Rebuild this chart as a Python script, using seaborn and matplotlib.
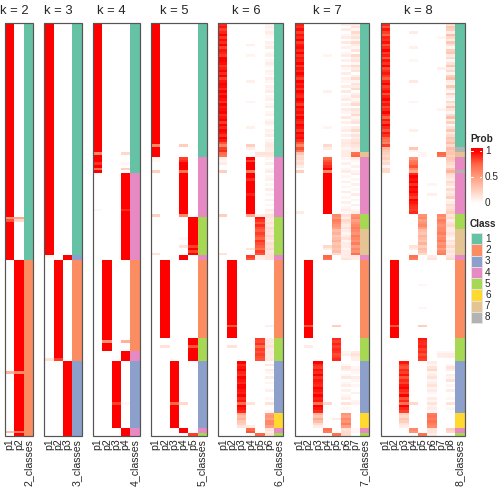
import numpy as np
import matplotlib.pyplot as plt
import seaborn as sns
from matplotlib.colors import LinearSegmentedColormap, ListedColormap
from matplotlib.patches import Rectangle

# =========================
# DATA
# =========================
n_rows = 160
k_list = [2, 3, 4, 5, 6, 7, 8]
class_colors = ["#66C2A5", "#FC8D62", "#8DA0CB", "#E78AC3",
                "#A6D854", "#FFD92F", "#E5C494", "#B3B3B3"]
class_labels = ["1", "2", "3", "4", "5", "6", "7", "8"]
prob_ticks = [1, 0.5, 0]

# class runs: (class, number of rows), top to bottom
runs_k2 = [(1, 92), (2, 68)]
runs_k3 = [(1, 90), (3, 2), (2, 39), (3, 29)]
runs_k4 = [(1, 58), (4, 34), (2, 35), (4, 4), (3, 26), (4, 3)]
runs_k5 = [(1, 52), (4, 23), (5, 15), (4, 2), (2, 30), (5, 9), (3, 26), (4, 2), (5, 1)]
runs_k6 = [(1, 52), (4, 23), (5, 15), (4, 2), (2, 30), (5, 9), (3, 20), (6, 6), (4, 2), (5, 1)]
runs_k7 = [(1, 50), (7, 2), (4, 22), (5, 6), (7, 10), (4, 2), (2, 30), (5, 9), (3, 20),
           (6, 6), (4, 2), (5, 1)]
runs_k8 = [(1, 48), (8, 2), (7, 2), (4, 5), (8, 1), (4, 16), (5, 6), (7, 10), (4, 2),
           (2, 30), (5, 9), (3, 20), (6, 6), (4, 2), (5, 1)]

# green block probabilities for the larger k
k6_green_p1 = [0.9, 0.95, 0.85, 0.92, 1.0, 0.88, 0.97, 0.9, 1.0, 0.85, 0.95, 0.92, 0.86,
               1.0, 1.0, 0.97, 0.88, 0.93, 1.0, 0.9, 1.0, 0.85, 0.95, 1.0, 0.98, 0.9,
               1.0, 0.92, 1.0, 0.96, 0.88, 1.0, 0.93, 0.97, 1.0, 0.9, 0.95, 1.0, 0.87,
               1.0, 0.92, 1.0, 0.96, 0.89, 1.0, 0.94, 0.8, 0.62, 0.85, 0.9, 0.72, 0.68]
k6_green_p6 = [0.05, 0.08, 0.05, 0.1, 0.05, 0.03, 0, 0.08, 0.05, 0.1, 0, 0.05, 0.08, 0,
               0.05, 0.1, 0.05, 0, 0.08, 0.05, 0, 0.1, 0.05, 0, 0.08, 0.05, 0.1, 0, 0.05,
               0.08, 0, 0.05, 0.1, 0, 0.05, 0.08, 0, 0.05, 0.1, 0.05, 0, 0.08, 0.05, 0.1,
               0, 0.05, 0.1, 0.12, 0.1, 0.08, 0.15, 0.12]
k7_green_p1 = [0.92, 0.88, 0.97, 0.85, 0.95, 0.9, 1.0, 0.86, 0.94, 0.98, 0.9, 1.0, 0.88,
               0.95, 0.92, 1.0, 0.87, 0.96, 0.9, 1.0, 0.94, 0.85, 1.0, 0.92, 0.97, 0.88,
               1.0, 0.93, 0.9, 1.0, 0.95, 0.86, 1.0, 0.92, 0.97, 0.89, 1.0, 0.94, 0.9,
               1.0, 0.96, 0.88, 1.0, 0.93, 0.98, 0.9, 0.78, 0.6, 0.82, 0.7]
k7_green_p6 = [0.08, 0, 0.1, 0, 0.05, 0.1, 0, 0.12, 0, 0.08, 0, 0.05, 0.1, 0, 0.08, 0,
               0.12, 0.05, 0, 0.1, 0, 0.08, 0.05, 0, 0.1, 0, 0.12, 0, 0.05, 0.1, 0, 0.08,
               0, 0.1, 0.05, 0, 0.12, 0, 0.08, 0, 0.05, 0.1, 0, 0.08, 0, 0.1, 0.12, 0.1,
               0.05, 0.1]
k7_green_p7 = [0.1, 0.15, 0.05, 0.2, 0.1, 0.15, 0.05, 0.2, 0.1, 0.05, 0.15, 0, 0.2, 0.1,
               0.15, 0.05, 0.2, 0.1, 0.15, 0, 0.1, 0.2, 0.05, 0.15, 0.1, 0.2, 0, 0.1, 0.15,
               0.05, 0.1, 0.2, 0, 0.15, 0.1, 0.2, 0.05, 0.1, 0.15, 0, 0.1, 0.2, 0.05, 0.15,
               0.1, 0.15, 0.2, 0.15, 0.1, 0.1]
k8_green_p1 = [0.9, 0.8, 0.95, 0.85, 0.75, 0.92, 0.88, 0.97, 0.8, 0.9, 1.0, 0.85, 0.93,
               0.78, 0.96, 0.88, 1.0, 0.82, 0.9, 0.95, 0.86, 0.78, 0.92, 1.0, 0.84, 0.9,
               0.97, 0.8, 0.93, 1.0, 0.87, 0.95, 0.82, 0.9, 1.0, 0.88, 0.76, 0.94, 0.85,
               1.0, 0.9, 0.8, 0.95, 0.88, 0.75, 0.7, 0.62, 0.85]
k8_green_p8 = [0.15, 0.3, 0.25, 0.1, 0.35, 0.2, 0.1, 0.3, 0.15, 0.05, 0.25, 0.3, 0.1, 0.2,
               0.05, 0.15, 0.3, 0.1, 0.2, 0.05, 0.25, 0.35, 0.1, 0.05, 0.3, 0.15, 0.05,
               0.25, 0.1, 0.05, 0.2, 0.1, 0.3, 0.15, 0.05, 0.2, 0.35, 0.1, 0.25, 0.05,
               0.15, 0.3, 0.1, 0.2, 0.3, 0.25, 0.35, 0.2]

# soft membership: (first row, column p#, values for consecutive rows)
soft_k2 = [(75, 1, [0.55, 0.8]), (75, 2, [0.45, 0.2]), (135, 1, [0.4]), (135, 2, [0.6]),
           (158, 1, [0.35]), (158, 2, [0.65])]
soft_k3 = [(90, 1, [0.05]), (130, 1, [0.15]), (130, 2, [0.85])]
soft_k4 = [(50, 1, [0.6]), (50, 4, [0.2]), (54, 1, [0.88]), (54, 4, [0.05]),
           (56, 1, [0.7]), (56, 4, [0.25]), (72, 1, [0.04]), (72, 4, [0.9]),
           (123, 2, [0.55]), (123, 4, [0.4]), (147, 3, [0.85]), (147, 4, [0.04])]
soft_k5 = [(47, 1, [0.6]), (47, 4, [0.25]), (52, 1, [0.05, 0.05]), (52, 4, [0.85, 0.9]),
           (57, 1, [0.25]), (57, 4, [0.7]), (74, 1, [0.25]), (74, 4, [0.6]),
           (83, 4, [0.04]), (86, 4, [0.15]), (86, 5, [0.85]), (88, 5, [0.85]),
           (89, 1, [0.15]), (125, 2, [0.15]), (125, 5, [0.8]), (147, 3, [0.75]),
           (147, 4, [0.2]), (159, 5, [0.85])]
soft_k6 = [(0, 1, k6_green_p1), (0, 6, k6_green_p6),
           (8, 4, [0.08]), (12, 4, [0.06]), (22, 4, [0.08]), (30, 4, [0.06]), (40, 4, [0.08]),
           (47, 4, [0.25, 0.1]), (50, 5, [0.15, 0.12]),
           (52, 1, [0.08, 0.05, 0.1]), (53, 4, [0.85]), (57, 1, [0.25]), (57, 4, [0.65]),
           (60, 4, [0.9]), (66, 4, [0.92]), (74, 1, [0.25]), (74, 4, [0.45]), (74, 5, [0.1]),
           (52, 6, [0.05, 0, 0.08, 0, 0.05, 0.1, 0, 0.05, 0.08, 0, 0.05, 0, 0.1, 0, 0.05,
                    0, 0.08, 0, 0.05, 0, 0.1, 0.05, 0.15]),
           (75, 5, [0.95, 0.88, 0.8, 0.9, 0.82, 0.78, 0.85, 0.8, 0.75, 0.88, 0.82, 0.78,
                    0.7, 0.85, 0.8]),
           (75, 6, [0.12, 0.1, 0.15, 0.1, 0.18, 0.15, 0.12, 0.2, 0.15, 0.1, 0.18, 0.15,
                    0.2, 0.12, 0.15]),
           (87, 4, [0.15]), (89, 1, [0.15]),
           (90, 4, [0.85, 0.8]), (90, 5, [0.1, 0.1]), (90, 6, [0.15, 0.15]),
           (117, 2, [0.8]), (117, 6, [0.08]),
           (122, 5, [0.85, 0.82, 0.88, 0.75, 0.85, 0.8, 0.85, 0.82, 0.8]),
           (122, 6, [0.1, 0.12, 0.1, 0.15, 0.1, 0.12, 0.1, 0.1, 0.12]), (125, 2, [0.15]),
           (131, 3, [1, 0.9, 0.95, 1, 0.92, 0.88, 1, 0.95, 0.9, 1, 1, 0.95, 0.92, 1, 0.9,
                     0.95, 0.72, 1, 0.95, 0.9]),
           (131, 6, [0, 0.12, 0, 0.1, 0.05, 0, 0.1, 0, 0.05, 0, 0, 0.08, 0, 0, 0.05, 0,
                     0.15, 0, 0, 0.05]),
           (147, 4, [0.15]),
           (151, 3, [0.45, 0.35, 0.4, 0.3, 0.25, 0.15]),
           (151, 6, [0.5, 0.55, 0.5, 0.6, 0.6, 0.5]), (156, 4, [0.1]),
           (157, 4, [0.75, 0.8]), (157, 6, [0.15, 0.1]), (159, 5, [0.75]), (159, 6, [0.15])]
soft_k7 = [(0, 1, k7_green_p1), (0, 6, k7_green_p6), (0, 7, k7_green_p7),
           (12, 4, [0.06]), (26, 4, [0.08]), (40, 4, [0.06]), (47, 4, [0.2, 0.1]),
           (50, 1, [0.3, 0.2]), (50, 6, [0.1, 0.1]), (50, 7, [0.7, 0.75]),
           (52, 1, [0.2, 0.15, 0.18, 0.1, 0, 0.25]), (52, 4, [0.75, 0.8, 0.85, 0.9, 1, 0.6]),
           (52, 6, [0.05, 0, 0.08, 0, 0.05, 0.1, 0, 0.05, 0, 0.08, 0, 0.05, 0, 0.1, 0,
                    0.05, 0, 0.08, 0, 0.05, 0.1, 0.05]),
           (52, 7, [0.1, 0.05, 0, 0.08, 0, 0.05, 0.1, 0, 0.05, 0, 0.08, 0, 0.05, 0, 0.1,
                    0, 0.05, 0, 0.08, 0, 0.05, 0.1]),
           (73, 1, [0.1]),
           (74, 5, [0.6, 0.55, 0.65, 0.6, 0.55, 0.5]),
           (74, 6, [0.15, 0.1, 0.2, 0.15, 0.1, 0.15]),
           (74, 7, [0.55, 0.6, 0.5, 0.55, 0.6, 0.65]),
           (80, 5, [0.35, 0.4, 0.3, 0.35, 0.4, 0.3, 0.35, 0.3, 0.35, 0.2]),
           (80, 6, [0.1, 0.05, 0.1, 0.15, 0.05, 0.1, 0.1, 0.05, 0.1, 0.1]),
           (80, 7, [0.6, 0.55, 0.65, 0.6, 0.55, 0.65, 0.5, 0.6, 0.55, 0.7]),
           (86, 4, [0.2, 0.1]),
           (90, 4, [0.75, 0.7]), (90, 6, [0.1, 0.15]), (90, 7, [0.1, 0.1]),
           (117, 2, [0.8]), (117, 5, [0.25]),
           (122, 5, [0.9, 0.85, 0.92, 0.85, 0.9, 0.88, 0.82, 0.85, 0.9]),
           (127, 6, [0.05, 0.08]), (127, 7, [0.1, 0.15, 0.1, 0.08]), (125, 2, [0.1]),
           (131, 3, [1, 0.9, 0.85, 0.95, 0.9, 1, 0.88, 0.95, 0.92, 0.9, 1, 0.95, 0.9, 1,
                     0.92, 0.95, 0.7, 1, 0.95, 0.9]),
           (131, 6, [0, 0.05, 0.15, 0.1, 0, 0.05, 0.12, 0, 0.05, 0.1, 0, 0.08, 0, 0.05,
                     0.1, 0, 0.15, 0, 0.05, 0]),
           (131, 7, [0, 0, 0.05, 0.08, 0.05, 0, 0.1, 0.05, 0, 0.05, 0, 0, 0.08, 0, 0,
                     0.05, 0.08, 0, 0, 0]),
           (147, 4, [0.2]),
           (151, 3, [0.4, 0.3, 0.45, 0.35, 0.2, 0.1]),
           (151, 6, [0.55, 0.5, 0.6, 0.55, 0.65, 0.5]), (153, 5, [0.1]),
           (157, 4, [0.7, 0.65]), (157, 6, [0.15, 0.2]), (157, 7, [0.05, 0.05]),
           (159, 5, [0.7]), (159, 6, [0.2])]
soft_k8 = [(0, 1, k8_green_p1), (0, 8, k8_green_p8),
           (3, 4, [0.1]), (9, 4, [0.08]), (14, 4, [0.05]), (22, 4, [0.12]), (30, 4, [0.06]),
           (41, 4, [0.08]), (5, 7, [0.05]), (17, 7, [0.08]), (33, 7, [0.06]),
           (48, 1, [0.35, 0.3]), (48, 4, [0.3, 0.05]), (48, 8, [0.35, 0.3]),
           (50, 1, [0.25, 0.2]), (50, 5, [0.05, 0.05]), (50, 7, [0.75, 0.7]),
           (50, 8, [0.3, 0.25]),
           (52, 1, [0.25, 0.15, 0.2, 0.05, 0.2]), (52, 4, [0.55, 0.65, 0.7, 0.8, 0.6]),
           (52, 8, [0.3, 0.25, 0.2, 0.15, 0.3]),
           (57, 1, [0.2]), (57, 4, [0.45]), (57, 8, [0.4]),
           (58, 4, [0.9, 1, 0.95, 1, 0.88, 1, 0.95, 1, 0.92, 0.85, 1, 0.95, 0.9, 0.88,
                    0.85, 0.9]),
           (58, 8, [0.2, 0.15, 0.1, 0.2, 0.15, 0.05, 0.2, 0.1, 0.15, 0.25, 0.05, 0.1, 0.2,
                    0.15, 0.2, 0.25]),
           (62, 6, [0.05]), (66, 6, [0.08]),
           (74, 5, [0.55, 0.6, 0.5, 0.55, 0.6, 0.5]),
           (74, 7, [0.6, 0.55, 0.65, 0.6, 0.55, 0.6]),
           (74, 8, [0.15, 0.2, 0.1, 0.15, 0.2, 0.1]),
           (80, 5, [0.35, 0.3, 0.4, 0.35, 0.3, 0.4, 0.25, 0.35, 0.3, 0.2]),
           (80, 7, [0.6, 0.65, 0.55, 0.6, 0.65, 0.55, 0.6, 0.5, 0.6, 0.65]),
           (80, 8, [0.1, 0.15, 0.1, 0.05, 0.15, 0.1, 0.2, 0.1, 0.15, 0.1]),
           (86, 4, [0.15, 0.1]),
           (90, 4, [0.7, 0.65]), (90, 6, [0.1, 0.15]), (90, 8, [0.15, 0.2]),
           (117, 2, [0.8]), (117, 5, [0.25]), (101, 5, [0.05]), (110, 5, [0.05]),
           (122, 5, [0.95, 0.9, 0.88, 0.92, 0.85, 0.9, 0.82, 0.88, 0.85]),
           (127, 7, [0.05, 0.1, 0.08]), (127, 8, [0.05, 0.1, 0.1]),
           (131, 3, [0.95, 0.85, 0.8, 0.9, 0.85, 0.95, 0.8, 0.9, 0.85, 0.95, 1, 0.9,
                     0.85, 1, 0.8, 0.9, 0.7, 1, 0.9, 0.85]),
           (131, 6, [0.1, 0.05, 0.15, 0.2, 0.05, 0.1, 0.15, 0.05, 0.1, 0.15, 0.05, 0.1,
                     0.05, 0, 0.1, 0.05, 0.15, 0.05, 0.1, 0.05]),
           (131, 8, [0, 0.05, 0.15, 0.1, 0, 0.1, 0.05, 0.15, 0, 0.05, 0, 0.1, 0, 0,
                     0.05, 0, 0.15, 0, 0.05, 0]),
           (147, 4, [0.2]),
           (151, 3, [0.25, 0.2, 0.3, 0.25, 0.15, 0.1]),
           (151, 6, [0.65, 0.7, 0.65, 0.7, 0.65, 0.6]),
           (157, 4, [0.6, 0.55]), (157, 6, [0.15, 0.15]), (157, 8, [0.25, 0.2]),
           (159, 5, [0.7]), (159, 6, [0.1])]

runs = {2: runs_k2, 3: runs_k3, 4: runs_k4, 5: runs_k5, 6: runs_k6, 7: runs_k7, 8: runs_k8}
softs = {2: soft_k2, 3: soft_k3, 4: soft_k4, 5: soft_k5, 6: soft_k6, 7: soft_k7, 8: soft_k8}


def class_vector(k):
    return np.concatenate([np.full(n, c) for c, n in runs[k]])


def prob_matrix(k):
    cls = class_vector(k)
    P = np.zeros((n_rows, k))
    P[np.arange(n_rows), cls - 1] = 1.0
    for r0, col, vals in softs[k]:
        P[r0:r0 + len(vals), col - 1] = vals
    return P


# =========================
# STYLE
# =========================
sns.set_style("white")
plt.rcParams["font.family"] = ["Liberation Sans", "DejaVu Sans"]

prob_cmap = LinearSegmentedColormap.from_list(
    "prob", [(0, "#FFFFFF"), (0.25, "#FFCFBE"), (0.5, "#FF9E81"), (0.75, "#FF6846"), (1, "#FF0000")])
class_cmap = ListedColormap(class_colors)

W, H = 504, 504
top, bottom = 23.3, 435.7
col_w = 9.33
gap = 11.3
label_size = 10.5

fig = plt.figure(figsize=(7, 7), dpi=72)

# =========================
# PANELS
# =========================
left = 5.0
for k in k_list:
    P = prob_matrix(k)
    cls = class_vector(k)
    hm_w = k * col_w

    ax = fig.add_axes([left / W, 1 - bottom / H, hm_w / W, (bottom - top) / H])
    sns.heatmap(P, ax=ax, cmap=prob_cmap, vmin=0, vmax=1, cbar=False,
                xticklabels=[f"p{i + 1}" for i in range(k)], yticklabels=False)
    ax.tick_params(axis="x", length=0, pad=3, labelsize=label_size, labelrotation=90)

    axc = fig.add_axes([(left + hm_w) / W, 1 - bottom / H, col_w / W, (bottom - top) / H])
    sns.heatmap(cls.reshape(-1, 1), ax=axc, cmap=class_cmap, vmin=0.5, vmax=8.5, cbar=False,
                xticklabels=[f"{k}_classes"], yticklabels=False)
    axc.tick_params(axis="x", length=0, pad=3, labelsize=label_size, labelrotation=90)

    fig.add_artist(Rectangle((left / W, 1 - bottom / H), (hm_w + col_w) / W, (bottom - top) / H,
                             transform=fig.transFigure, fill=False, edgecolor="#555555", lw=1.2))
    fig.text((left + hm_w / 2) / W, 1 - 10.5 / H, f"k = {k}", ha="center", va="center", fontsize=13)
    left += hm_w + col_w + gap

# =========================
# LEGENDS
# =========================
fig.text(470 / W, 1 - 139.5 / H, "Prob", ha="left", va="center", fontsize=10, fontweight="bold")
bar_top, bar_bot = 148, 206
v_top, v_bot = 1.06, -0.05
axl = fig.add_axes([470.7 / W, 1 - bar_bot / H, 11 / W, (bar_bot - bar_top) / H])
grad = np.linspace(v_bot, v_top, 200).reshape(-1, 1)
axl.imshow(np.clip(grad, 0, 1), cmap=prob_cmap, vmin=0, vmax=1, aspect="auto",
           origin="lower", extent=[0, 1, v_bot, v_top])
for t in prob_ticks:
    axl.plot([0, 0.2], [t, t], color="white", lw=1)
    axl.plot([0.8, 1], [t, t], color="white", lw=1)
    y_px = bar_bot - (t - v_bot) / (v_top - v_bot) * (bar_bot - bar_top)
    fig.text(485 / W, 1 - y_px / H, f"{t:g}", ha="left", va="center", fontsize=10)
axl.set_xlim(0, 1)
axl.set_ylim(v_bot, v_top)
axl.axis("off")

fig.text(470 / W, 1 - 224 / H, "Class", ha="left", va="center", fontsize=10, fontweight="bold")
sw = 11.2
for i, (c, lab) in enumerate(zip(class_colors, class_labels)):
    y0 = 233.3 + i * sw
    fig.add_artist(Rectangle((470.7 / W, 1 - (y0 + sw) / H), sw / W, sw / H,
                             transform=fig.transFigure, facecolor=c, edgecolor="#E6E6E6", lw=0.8))
    fig.text(485 / W, 1 - (y0 + sw / 2) / H, lab, ha="left", va="center", fontsize=10)

plt.savefig("out.png", dpi=72)
